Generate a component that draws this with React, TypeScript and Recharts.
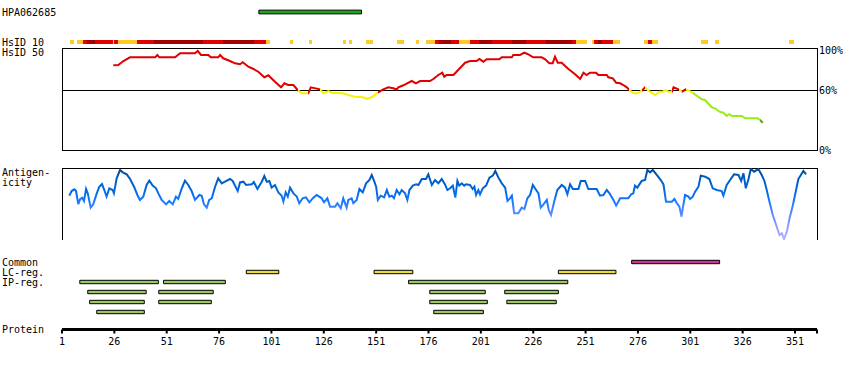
import { ComposedChart, Line, XAxis, YAxis, ReferenceArea, ReferenceLine } from "recharts";

const FONT = "'DejaVu Sans Mono', monospace";
const INK = "#000";

// residue axis
const proteinEnd = 361.5;
const proteinTicks = [1, 26, 51, 76, 101, 126, 151, 176, 201, 226, 251, 276, 301, 326, 351, proteinEnd];
const identityTicks = [0, 60, 100];

const fragment = { name: "HPA062685", start: 95, end: 144 };

// HsID 10 strip: [start, end, level] (1 = low, 2 = mid, 3 = high)
const hsid10Segments: [number, number, number][] = [
  [4.8, 6.7, 1], [8.3, 10.9, 1], [10.9, 13.1, 2], [13.1, 16.8, 3], [16.8, 25.5, 2], [25.5, 26, 1],
  [26, 27.9, 2], [27.9, 36.7, 1], [36.7, 44.9, 2], [44.9, 68.5, 3], [68.5, 77.7, 2], [77.7, 92.7, 3],
  [92.7, 98.4, 2], [98.4, 100.3, 1], [109.9, 111.2, 1], [118.9, 120.2, 1], [135.3, 136.6, 1],
  [138, 139.3, 1], [146.2, 149.4, 1], [160.8, 164.3, 1], [170, 171.3, 1], [174.8, 179.1, 1],
  [179.1, 181.2, 2], [181.2, 186.7, 3], [186.7, 190.7, 2], [190.7, 195.8, 1], [195.8, 200.3, 2],
  [200.3, 206.2, 3], [206.2, 216, 2], [216, 222.6, 3], [222.6, 232.1, 2], [232.1, 244.4, 3],
  [244.4, 246.4, 2], [246.4, 251.5, 1], [254.1, 255, 1], [255, 257.1, 2], [257.1, 258.7, 3],
  [258.7, 263.9, 2], [263.9, 267.4, 1], [278.9, 280.9, 1], [280.9, 282.9, 2], [282.9, 285.4, 1],
  [306.1, 309.3, 1], [312.8, 314.7, 1], [348.1, 350.5, 1]
];

// HsID 50: [residue, identity %]
const hsid50: [number, number][] = [
  [25.5, 84.7], [27.9, 85], [30.3, 89], [33.5, 92.7], [45.5, 92.7], [46.5, 95], [47.5, 92.7], [55, 92.7],
  [57.4, 96.7], [64.5, 96.7], [65.8, 99], [67.4, 95], [70.9, 95], [72, 92.7], [75.6, 92.7], [76.5, 95],
  [78, 91.7], [81.2, 89], [83.6, 86.7], [86, 85.7], [87.3, 87.7], [90, 83.3], [92.4, 81], [94.7, 78.3],
  [97.6, 72.7], [99.5, 74.7], [102.7, 68.3], [105.6, 62.7], [107.2, 66.7], [109, 65], [111.5, 65],
  [113.5, 60], [115.5, 56.7], [118.6, 56.7], [119.8, 62.7], [124.2, 60.7], [125.8, 56.7], [128.2, 59],
  [129.8, 57.3], [135.3, 56.7], [137.7, 55], [140.9, 53.3], [144.9, 52.7], [146.5, 51], [148.9, 52.7],
  [152, 57.7], [154.4, 60.7], [156.8, 62.7], [159.2, 61.7], [160.8, 60.5], [161.6, 62.7], [164, 64.7],
  [168, 69], [170, 66.7], [172, 69], [176.7, 69], [178.3, 71], [180.7, 75], [182.6, 77.3], [183.5, 73.3],
  [184.7, 75], [187.9, 75], [193.5, 87.3], [195.8, 89], [199, 89], [200.3, 91], [202.2, 88.3],
  [203.8, 90.7], [209.8, 90.7], [211, 92.7], [215.8, 92.7], [216.5, 95], [219.7, 95], [221.8, 97.3],
  [223.7, 95.7], [226, 92.7], [230, 92.7], [231.7, 90.7], [233.7, 86.7], [235.3, 86.7], [236.4, 93.3],
  [237.7, 87.3], [239.6, 87.3], [242.8, 81], [246, 75.7], [248.4, 71], [250, 77.3], [251.5, 75],
  [253.1, 77.3], [256, 77.3], [257.1, 75], [261.1, 75], [261.9, 72.7], [264, 71.7], [265.6, 67.3],
  [267.5, 66.7], [269, 65], [270.7, 62.7], [271.9, 60], [273.8, 56.7], [275.7, 56.7], [277.8, 59.3],
  [279.4, 62.7], [281, 59.3], [284.2, 55], [286.3, 58.3], [287.9, 58.3], [289, 59.8], [290.6, 58.3],
  [292.2, 58.3], [293, 62.7], [295.4, 60.7], [297, 58.3], [298.8, 60.7], [300.1, 59.5], [302.5, 56.7],
  [306.5, 50.7], [308, 50], [311.2, 42.7], [312.8, 41.7], [314.9, 38.3], [316.8, 37.3], [318.4, 34],
  [319.6, 36], [320.8, 34], [325.6, 34], [327.2, 31.7], [333.1, 31.7], [334.3, 30], [335.6, 27.3]
];

// antigenicity: [residue, score 0-100]
const antigenicity: [number, number][] = [
  [4.5, 61.5], [5.6, 68], [6.9, 70.4], [7.7, 68], [8.8, 49.6], [9.6, 56.5], [10.6, 58.8], [11.5, 54.2],
  [12.5, 70.8], [13.3, 64.8], [14.7, 44.9], [15.9, 49.5], [17.6, 64.8], [18.8, 74], [20.1, 77.8],
  [21.2, 69.4], [22.3, 60.2], [23.6, 71.8], [25.2, 69.4], [25.8, 64.8], [27.1, 85.6], [28.7, 97.2],
  [30, 94], [31.9, 91.2], [33.5, 84.7], [35.4, 74], [37, 62.5], [38.2, 55.6], [39.8, 60.2], [41.4, 76.4],
  [42.7, 82.4], [44.3, 75.5], [45.9, 71.8], [47, 64.8], [48.6, 55.6], [50.7, 49.5], [52.2, 54.2],
  [53.9, 49.5], [55.4, 60.2], [56.5, 57], [58.2, 71.8], [59.7, 82.4], [61.3, 76.4], [62.9, 68],
  [64.5, 55.6], [66.6, 62.5], [67.7, 61.5], [68.8, 49.5], [70.1, 44.9], [71.3, 55.6], [72.5, 57.9],
  [74.1, 74], [75.6, 85.6], [77.3, 78.7], [78.8, 81], [81.2, 84.7], [82.5, 82], [83.6, 75.5], [84.9, 68],
  [86, 80], [87.6, 81], [88.9, 76.4], [91.6, 77.3], [92.6, 80.5], [94.3, 70.8], [96.4, 81], [97.6, 88.9],
  [98.8, 81], [100, 82], [101.1, 72.7], [102.7, 76.4], [104.3, 66.2], [105.9, 61.5], [106.7, 53.2],
  [107.8, 66.2], [108.8, 60.2], [109.9, 72.7], [111.5, 64.8], [113.1, 60.2], [114.3, 51], [115.9, 57.9],
  [117.5, 59.3], [119.1, 52.3], [121, 58.8], [122.6, 62.5], [125, 57.9], [126.1, 52.3], [127.7, 57.9],
  [129, 46.3], [131.4, 46.3], [132.5, 51], [134.1, 44], [135.3, 57.9], [136.9, 44.9], [137.7, 55.6],
  [139.3, 57.9], [140.1, 51], [141.7, 55.6], [143, 70.8], [144.6, 66.2], [146.2, 78.7], [147.8, 83.3],
  [148.9, 90.3], [150, 82], [151, 74], [151.8, 55.6], [153.2, 61.5], [154.8, 59.3], [156.1, 69.4],
  [157.3, 60.2], [158.5, 61.5], [159.5, 57.9], [160.8, 69.4], [162.1, 63.4], [163.2, 69.4], [164.8, 64.8],
  [165.9, 55.6], [166.9, 69.4], [168.5, 75.5], [170.1, 77.3], [171.2, 76.4], [172.8, 84.7], [174.8, 84.7],
  [175.9, 91.2], [177.6, 76.4], [179.1, 83.3], [180.7, 78.7], [182.3, 84.7], [183.9, 77.3], [185, 69.4],
  [186.3, 71.8], [187.6, 75.5], [188.8, 58.8], [189.8, 82], [190.7, 75.5], [191.9, 78.7], [193, 75.5],
  [193.9, 77.3], [195.8, 76.4], [197.1, 70.8], [197.9, 74], [198.7, 62.5], [199.8, 69.4], [200.6, 63.4],
  [201.9, 71.8], [203.5, 75.5], [205.1, 86.6], [206.7, 89.4], [207.9, 95.8], [209.4, 86.6], [211, 78.7],
  [212.6, 72.7], [213.7, 54.2], [214.9, 57.9], [215.8, 61.5], [216.9, 37], [218.9, 37], [220.5, 44.9],
  [221.8, 43], [223.2, 57.9], [224.5, 62.5], [225.8, 76.4], [227.4, 69.4], [228.5, 64.8], [229.6, 44.9],
  [230.9, 49.5], [232.5, 55.6], [233.4, 41.7], [234.5, 34.7], [236, 53.2], [237.5, 69.4], [239.6, 76.4],
  [241.2, 72.7], [242.3, 63.4], [243.6, 77.3], [244.9, 70.8], [247.6, 70.8], [248.7, 82], [250.8, 82],
  [252.3, 70.8], [256.3, 70.8], [257.9, 61.5], [259.5, 62.5], [261.1, 69.4], [262.4, 64.8], [264.3, 55.6],
  [265.6, 47.7], [267.5, 57.9], [271.4, 57.9], [272.8, 63.5], [273.8, 64.8], [274.6, 75.5], [275.7, 72.7],
  [277.8, 82], [279.4, 83.3], [280.5, 97.2], [281.8, 94], [283.1, 97.2], [285, 90.3], [286.9, 83.3],
  [288.2, 77.3], [289.4, 53.2], [292.2, 53.2], [293.4, 57], [294.6, 51], [295.8, 46.3], [296.8, 32.4],
  [297.4, 44], [298.5, 62.5], [300.1, 60.2], [300.9, 57], [302.2, 60.2], [303.3, 67.1], [304.9, 74],
  [306, 89.4], [308.1, 87.9], [310.1, 84.7], [311.7, 71.8], [313.6, 69.4], [316, 68], [316.8, 61.5],
  [318.4, 76.4], [320, 83.3], [321.9, 91.2], [324, 90.3], [325.3, 82], [326.4, 92.6], [327.5, 71.8],
  [328.8, 84.7], [329.9, 98.6], [331.5, 94.9], [333.5, 98.6], [335.1, 90.3], [336.4, 82], [337.5, 69.4],
  [338.8, 53.2], [340.4, 34.7], [342, 20.8], [343.6, 6.9], [344.7, 9.3], [345.8, 1.4], [347.1, 11.6],
  [348.4, 30.1], [350, 48.6], [351.5, 69.4], [352.6, 84.7], [353.8, 90.3], [355, 95.8], [356.3, 91.2]
];

// feature regions: [start, end]
const commonRegions: [number, number][] = [[273, 315]];
const lcRegions: [number, number][] = [[89, 104.5], [150, 168.5], [238, 265.5]];
// IP regions: [start, end, row]
const ipRegions: [number, number, number][] = [
  [9.5, 47, 0], [49.5, 79, 0], [166.5, 242.5, 0],
  [13.3, 41.2, 1], [47.2, 73.2, 1], [176.6, 203.1, 1], [212.4, 238, 1],
  [14.2, 40.3, 2], [47.2, 72.3, 2], [176.6, 204.1, 2], [213.4, 237, 2],
  [17.6, 40.3, 3], [178.5, 202.2, 3]
];

const hsid10Colors: Record<number, string> = { 1: "#ffc926", 2: "#e00000", 3: "#a00000" };
const identityColor = (v: number) => (v >= 60 ? "#e00000" : v >= 51 ? "#f4f400" : v >= 30 ? "#99ee11" : "#55aa00");
const antigenColors: [number, string][] = [
  [100, "#004c9e"], [85, "#005bc4"], [70, "#0068e0"], [55, "#1577ff"], [40, "#4a88ff"], [25, "#8095ff"], [5, "#b4aaff"]
];

const residueDomain: [number, number] = [1, proteinEnd];
const margin = { top: 0, right: 33, bottom: 0, left: 62 };

const hsidRows = hsid50.map(([res, identity]) => ({ res, identity }));
const antigenRows = antigenicity.map(([res, score]) => ({ res, score }));

// horizontal colour stops for the HsID 50 trace, one colour per segment
const hsidStops = (() => {
  const lo = hsid50[0][0];
  const hi = hsid50[hsid50.length - 1][0];
  const stops: { offset: number; color: string }[] = [];
  for (let i = 1; i < hsid50.length; i++) {
    const color = identityColor(hsid50[i][1]);
    stops.push({ offset: (hsid50[i - 1][0] - lo) / (hi - lo), color });
    stops.push({ offset: (hsid50[i][0] - lo) / (hi - lo), color });
  }
  return stops;
})();

const antigenStops = (() => {
  const vals = antigenicity.map((d) => d[1]);
  const top = Math.max(...vals);
  const bottom = Math.min(...vals);
  return antigenColors.map(([v, color]) => ({ offset: Math.min(1, Math.max(0, (top - v) / (top - bottom))), color }));
})();

const labels = [
  { text: "HPA062685", y: 16 },
  { text: "HsID 10", y: 46 },
  { text: "HsID 50", y: 56 },
  { text: "Antigen-", y: 176 },
  { text: "icity", y: 186 },
  { text: "Common", y: 266 },
  { text: "LC-reg.", y: 276 },
  { text: "IP-reg.", y: 286 },
  { text: "Protein", y: 333 }
];

const tickStyle = { fill: INK, fontSize: 10, fontFamily: FONT };

export default function App() {
  return (
    <div style={{ position: "absolute", left: 0, top: 0, width: 850, height: 370, background: "#fff", overflow: "hidden" }}>
      {/* fragment + HsID 10 strip */}
      <div style={{ position: "absolute", left: 0, top: 0 }}>
        <ComposedChart width={850} height={54} data={[{ res: fragment.start }, { res: fragment.end }]} margin={margin}>
          <XAxis type="number" dataKey="res" domain={residueDomain} hide allowDataOverflow />
          <YAxis type="number" domain={[-0.4, 1.4]} reversed hide allowDataOverflow />
          <ReferenceArea x1={fragment.start} x2={fragment.end} y1={-0.062} y2={0.062} fill="#1ea51e" fillOpacity={1} stroke={INK} strokeWidth={1} ifOverflow="visible" />
          {hsid10Segments.map(([s, e, level], i) => (
            <ReferenceArea key={i} x1={s} x2={e} y1={0.922} y2={1.078} fill={hsid10Colors[level]} fillOpacity={1} stroke="none" ifOverflow="visible" shapeRendering="crispEdges" />
          ))}
        </ComposedChart>
      </div>

      {/* HsID 50 */}
      <div style={{ position: "absolute", left: 0, top: 38 }}>
        <ComposedChart width={850} height={122} data={hsidRows} margin={{ ...margin, top: 10, bottom: 10, right: 0 }}>
          <defs>
            <linearGradient id="hsidStroke" x1="0" y1="0" x2="1" y2="0">
              {hsidStops.map((s, i) => (
                <stop key={i} offset={s.offset} stopColor={s.color} />
              ))}
            </linearGradient>
          </defs>
          <XAxis type="number" dataKey="res" domain={residueDomain} hide allowDataOverflow />
          <YAxis
            type="number"
            orientation="right"
            domain={[0, 102]}
            ticks={identityTicks}
            interval={0}
            tickFormatter={(v) => `${v}%`}
            axisLine={false}
            tickLine={false}
            tickSize={0}
            tickMargin={2}
            width={33}
            tick={tickStyle}
            allowDataOverflow
          />
          <ReferenceArea x1={1} x2={proteinEnd} y1={0} y2={102} fill="none" stroke={INK} strokeWidth={1} ifOverflow="visible" shapeRendering="crispEdges" />
          <ReferenceLine y={60} stroke={INK} strokeWidth={1} shapeRendering="crispEdges" />
          <Line type="linear" dataKey="identity" stroke="url(#hsidStroke)" strokeWidth={2} dot={false} activeDot={false} isAnimationActive={false} />
        </ComposedChart>
      </div>

      {/* antigenicity */}
      <div style={{ position: "absolute", left: 0, top: 168 }}>
        <ComposedChart width={850} height={72} data={antigenRows} margin={margin}>
          <defs>
            <linearGradient id="antigenStroke" x1="0" y1="0" x2="0" y2="1">
              {antigenStops.map((s, i) => (
                <stop key={i} offset={s.offset} stopColor={s.color} />
              ))}
            </linearGradient>
          </defs>
          <XAxis type="number" dataKey="res" domain={residueDomain} hide allowDataOverflow />
          <YAxis type="number" domain={[0, 100]} hide allowDataOverflow />
          <ReferenceArea x1={1} x2={proteinEnd} y1={0} y2={100} fill="none" stroke={INK} strokeWidth={1} ifOverflow="visible" shapeRendering="crispEdges" />
          <Line type="linear" dataKey="score" stroke="url(#antigenStroke)" strokeWidth={2} dot={false} activeDot={false} isAnimationActive={false} />
        </ComposedChart>
      </div>

      {/* regions */}
      <div style={{ position: "absolute", left: 0, top: 257 }}>
        <ComposedChart width={850} height={60} data={ipRegions.map(([s]) => ({ res: s }))} margin={margin}>
          <XAxis type="number" dataKey="res" domain={residueDomain} hide allowDataOverflow />
          <YAxis type="number" domain={[-0.5, 5.5]} reversed hide allowDataOverflow />
          {commonRegions.map(([s, e], i) => (
            <ReferenceArea key={`c${i}`} x1={s} x2={e} y1={-0.17} y2={0.17} fill="#cc3399" fillOpacity={1} stroke={INK} strokeWidth={1} ifOverflow="visible" />
          ))}
          {lcRegions.map(([s, e], i) => (
            <ReferenceArea key={`l${i}`} x1={s} x2={e} y1={0.83} y2={1.17} fill="#eedb3a" fillOpacity={1} stroke={INK} strokeWidth={1} ifOverflow="visible" />
          ))}
          {ipRegions.map(([s, e, row], i) => (
            <ReferenceArea key={`i${i}`} x1={s} x2={e} y1={row + 1.83} y2={row + 2.17} fill="#9cc95e" fillOpacity={1} stroke={INK} strokeWidth={1} ifOverflow="visible" />
          ))}
        </ComposedChart>
      </div>

      {/* protein axis */}
      <div style={{ position: "absolute", left: 0, top: 300 }}>
        <ComposedChart width={850} height={60} data={[{ res: 1 }, { res: proteinEnd }]} margin={margin}>
          <XAxis
            type="number"
            dataKey="res"
            domain={residueDomain}
            ticks={proteinTicks}
            interval={0}
            tickFormatter={(v) => (v === proteinEnd ? "" : String(v))}
            axisLine={{ stroke: INK, strokeWidth: 3 }}
            tickLine={{ stroke: INK, strokeWidth: 2 }}
            tickSize={4}
            tickMargin={4.5}
            height={30.5}
            tick={tickStyle}
            allowDataOverflow
          />
          <YAxis type="number" domain={[0, 1]} hide />
        </ComposedChart>
      </div>

      <svg width={850} height={370} style={{ position: "absolute", left: 0, top: 0, pointerEvents: "none" }}>
        {labels.map((l) => (
          <text key={l.text} x={2} y={l.y} fontFamily={FONT} fontSize={10} fill={INK}>
            {l.text}
          </text>
        ))}
      </svg>
    </div>
  );
}
